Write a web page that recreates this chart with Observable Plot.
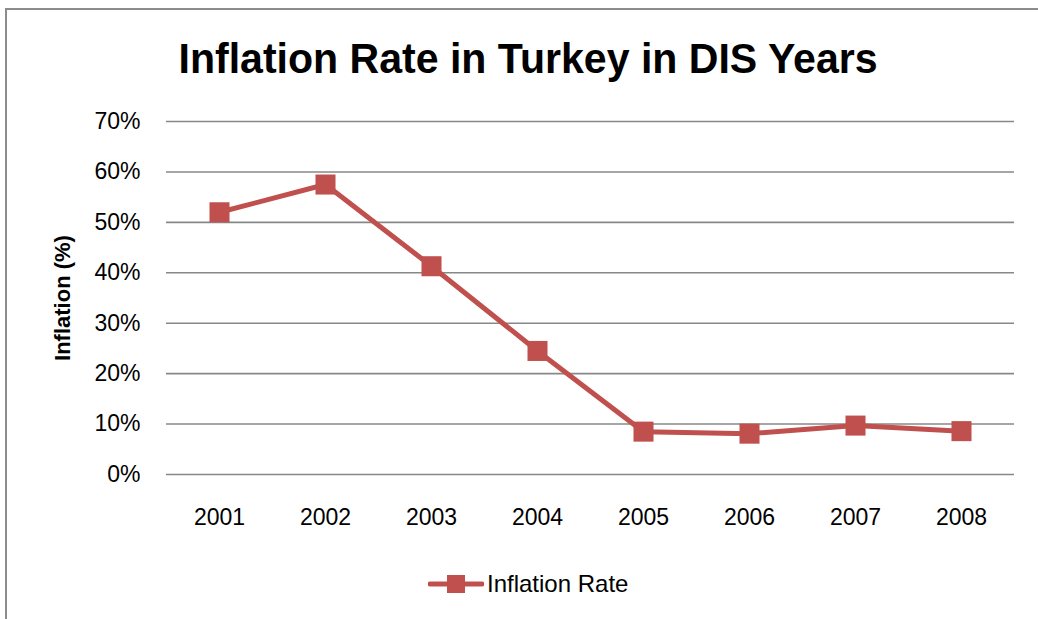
<!DOCTYPE html>
<html>
<head>
<meta charset="utf-8">
<script src="https://cdn.jsdelivr.net/npm/d3@7"></script>
<script src="https://cdn.jsdelivr.net/npm/@observablehq/plot@0.6"></script>
<style>
  body { margin: 0; background: #fff; }
  #wrap { position: relative; width: 1038px; height: 619px; overflow: hidden; background: #fff; }
  #frame { position: absolute; left: 5px; top: 8px; width: 1100px; height: 700px;
           border-top: 2px solid #8c8c8c; border-left: 2px solid #8c8c8c; }
  #title { position: absolute; left: 0; width: 1056px; top: 34px; text-align: center; }
  #title span { display: inline-block; transform: scaleX(0.955); transform-origin: center;
           font-family: "Liberation Sans", sans-serif; font-weight: bold;
           font-size: 43px; color: #000; white-space: nowrap; }
  #chart { position: absolute; left: 0; top: 0; }
  #chart svg g[aria-label="y-axis label"] text { font-weight: bold; font-size: 22px; }
  #legend { position: absolute; left: 428px; top: 570px; display: flex; align-items: center;
            font-family: "Liberation Sans", sans-serif; font-size: 24px; color: #000; }
</style>
</head>
<body>
<div id="wrap">
  <div id="frame"></div>
  <div id="chart"></div>
  <div id="title"><span></span></div>
  <div id="legend"></div>
</div>
<script>
const titleText = "Inflation Rate in Turkey in DIS Years";
const yLabel = "Inflation (%)";
const seriesName = "Inflation Rate";
const years = ["2001", "2002", "2003", "2004", "2005", "2006", "2007", "2008"];
const inflation = [52.0, 57.5, 41.3, 24.5, 8.5, 8.1, 9.7, 8.6];
const yTicks = [0, 10, 20, 30, 40, 50, 60, 70];

const color = "#c0504d";
const data = years.map((y, i) => ({year: y, value: inflation[i]}));

document.querySelector("#title span").textContent = titleText;

const chart = Plot.plot({
  width: 1038,
  height: 619,
  marginLeft: 166,
  marginRight: 24,
  marginTop: 121,
  marginBottom: 145,
  style: {fontFamily: "Liberation Sans, sans-serif", fontSize: "23px", color: "#000", background: "transparent"},
  x: {type: "point", domain: years, padding: 0.5},
  y: {domain: [0, 70]},
  marks: [
    Plot.ruleY(yTicks, {stroke: "#888", strokeWidth: 1.6}),
    Plot.axisX({tickSize: 0, tickPadding: 34, label: null}),
    Plot.axisY({ticks: yTicks, tickSize: 0, tickPadding: 26, tickFormat: d => d + "%",
                label: yLabel, labelAnchor: "center", labelArrow: "none", labelOffset: 112}),
    Plot.line(data, {x: "year", y: "value", stroke: color, strokeWidth: 5}),
    Plot.dot(data, {x: "year", y: "value", symbol: "square", r: 11.3, fill: color, stroke: "none"})
  ]
});
document.getElementById("chart").appendChild(chart);

const legend = document.getElementById("legend");
const ns = "http://www.w3.org/2000/svg";
const sw = document.createElementNS(ns, "svg");
sw.setAttribute("width", 56); sw.setAttribute("height", 22);
sw.style.marginRight = "3px";
const ln = document.createElementNS(ns, "line");
ln.setAttribute("x1", 2); ln.setAttribute("x2", 54); ln.setAttribute("y1", 11); ln.setAttribute("y2", 11);
ln.setAttribute("stroke", color); ln.setAttribute("stroke-width", 5); ln.setAttribute("stroke-linecap", "round");
const sq = document.createElementNS(ns, "rect");
sq.setAttribute("x", 19); sq.setAttribute("y", 2); sq.setAttribute("width", 18); sq.setAttribute("height", 18);
sq.setAttribute("fill", color);
sw.appendChild(ln); sw.appendChild(sq);
legend.appendChild(sw);
const lt = document.createElement("span");
lt.textContent = seriesName;
legend.appendChild(lt);
</script>
</body>
</html>
